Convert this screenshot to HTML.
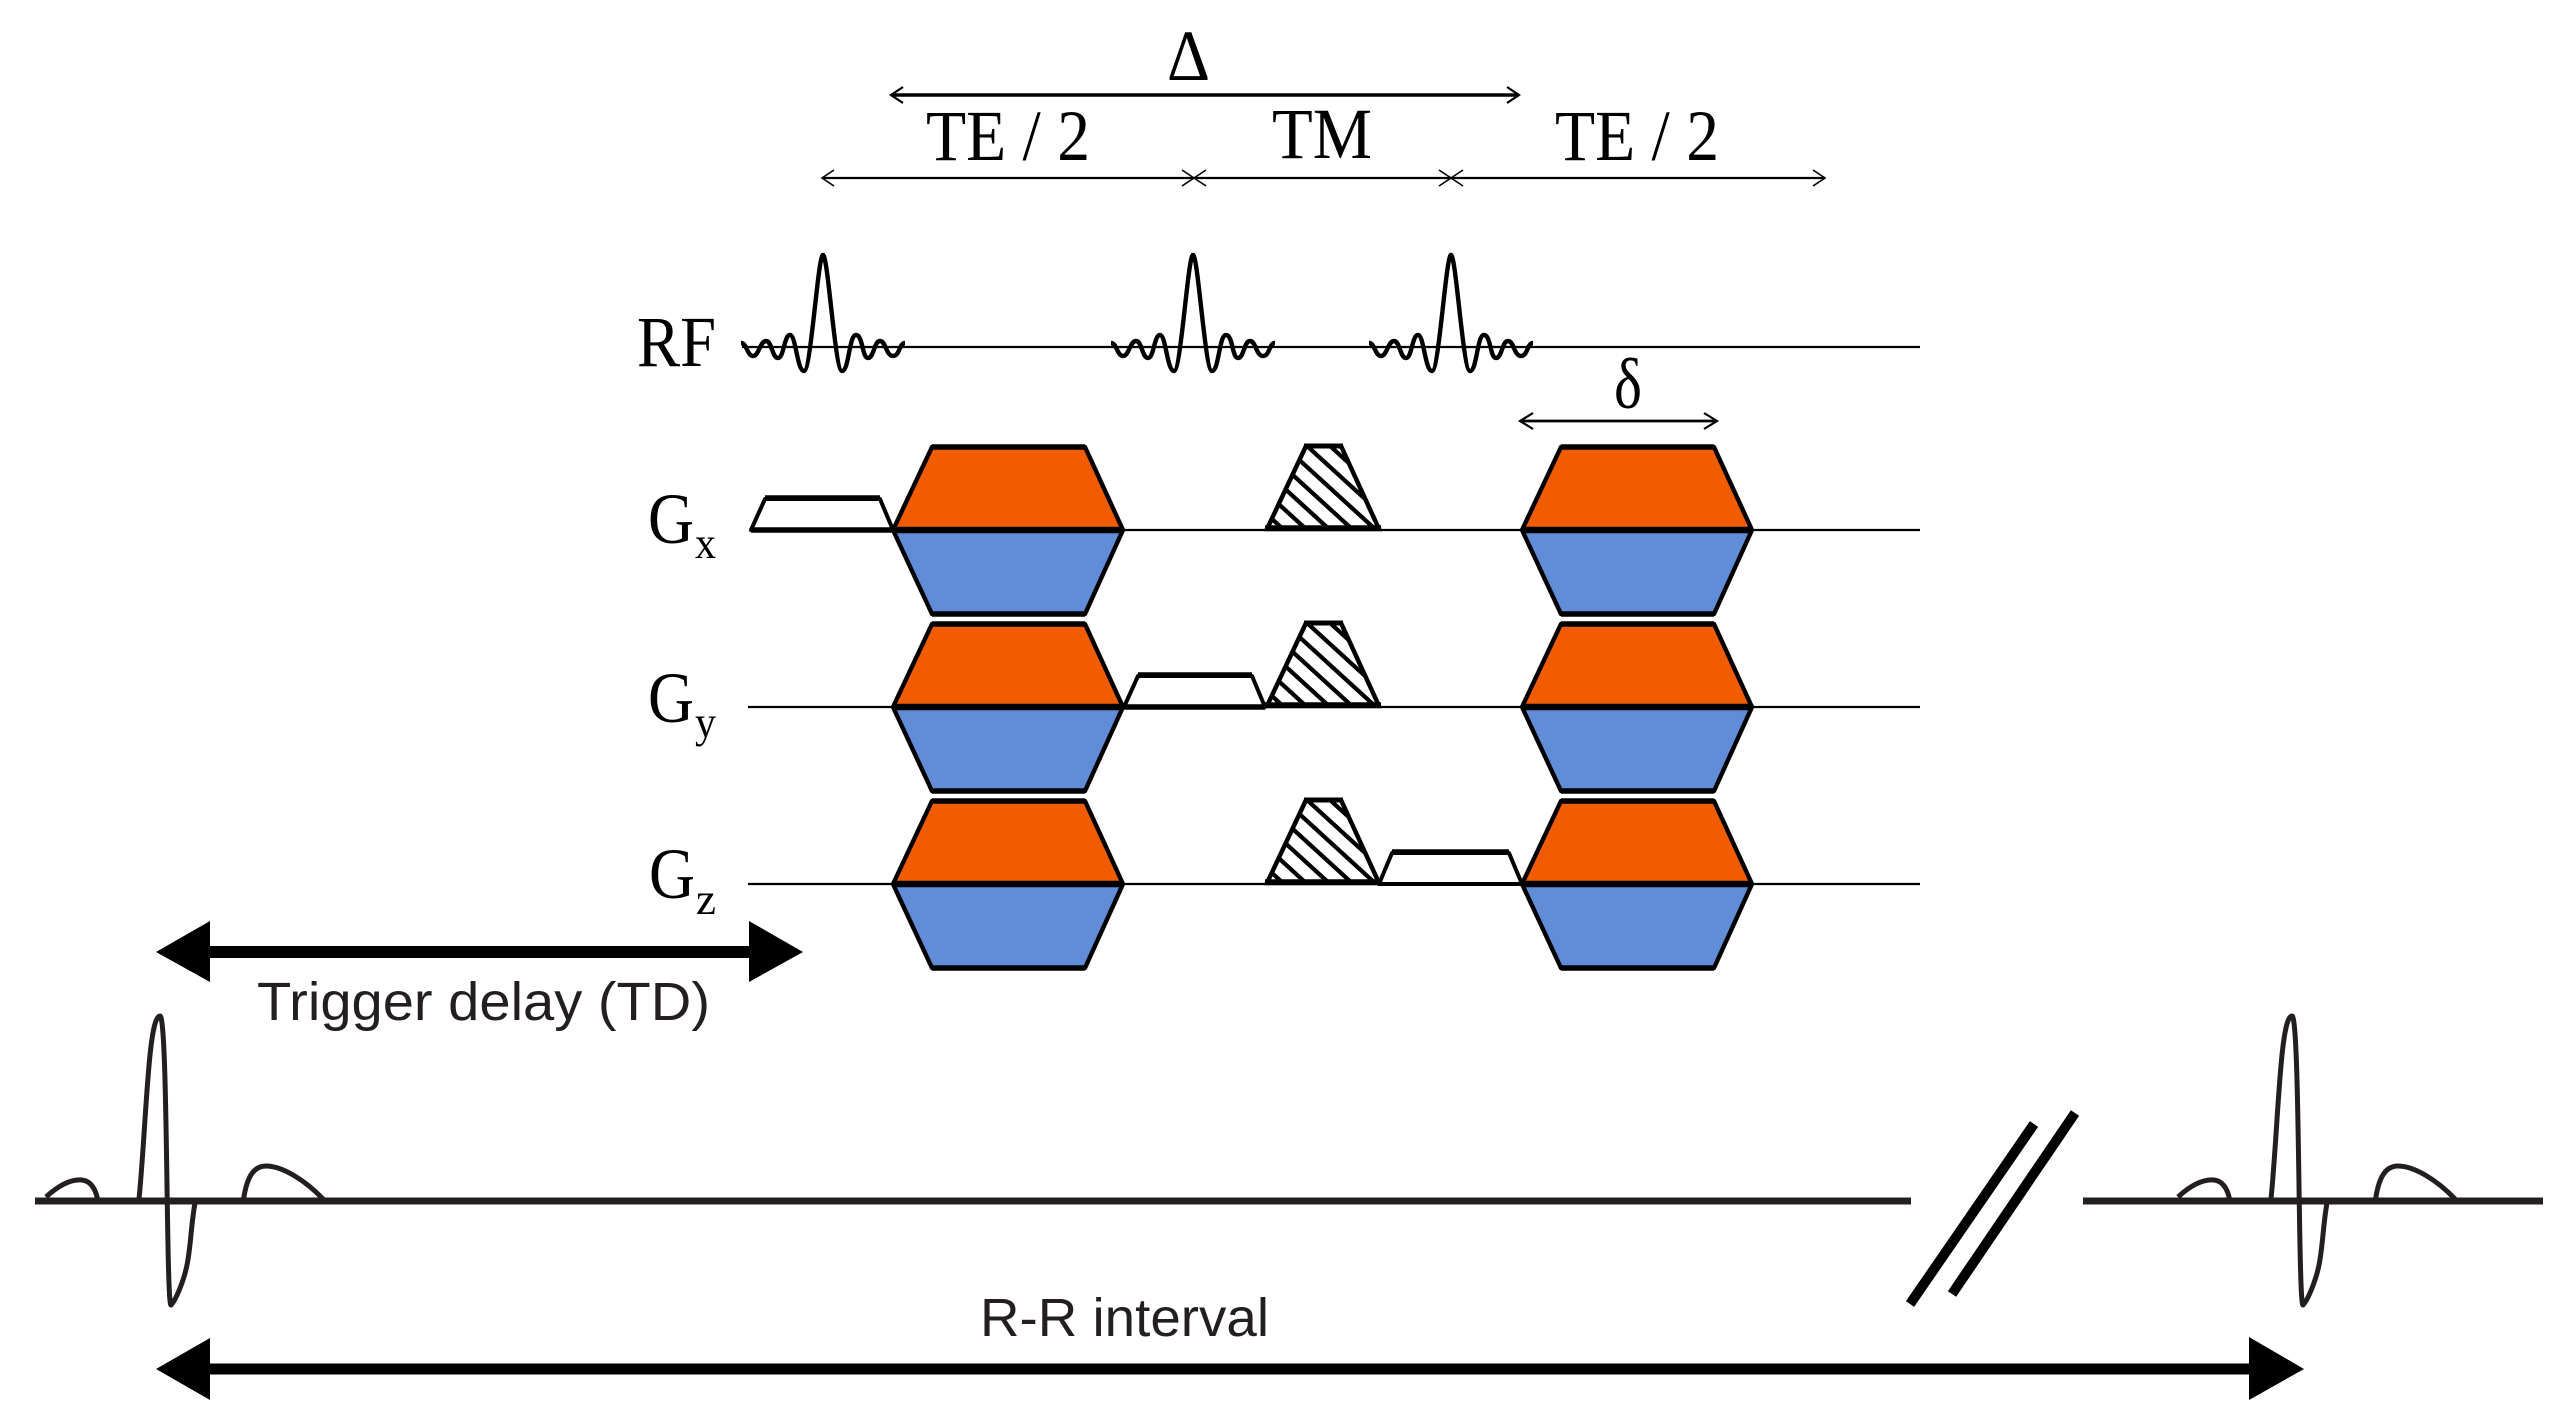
<!DOCTYPE html>
<html>
<head>
<meta charset="utf-8">
<style>
html,body{margin:0;padding:0;background:#fff;width:2550px;height:1425px;overflow:hidden}
svg{display:block}
.s{font-family:"Liberation Serif",serif;fill:#000}
.d{font-family:"Liberation Sans",sans-serif;fill:#231f20;font-size:54px}
</style>
</head>
<body>
<svg width="2550" height="1425" viewBox="0 0 2550 1425" xmlns="http://www.w3.org/2000/svg">
<defs>
<pattern id="h" patternUnits="userSpaceOnUse" width="23" height="21" patternTransform="translate(7,15)">
<path d="M-6,-5.5 L29,26.5 M-29,-5.5 L6,26.5 M17,-5.5 L52,26.5" stroke="#000" stroke-width="4.2" fill="none"/>
</pattern>
<path id="sinc" fill="none" stroke="#000" stroke-width="4.4" d="M-82,-4 C-76,-4 -76,9 -70,9 S-63,-6 -57,-6 S-51,11 -45,11 S-39,-12 -33,-12 S-26,24 -19,24 S-5,-92 0,-92 S12,24 19,24 S26,-12 33,-12 S39,11 45,11 S51,-6 57,-6 S63,9 70,9 S76,-4 82,-4"/>
<g id="hat">
<polygon points="1267,529 1306,446 1341,446 1379,529" fill="url(#h)" stroke="#000" stroke-width="4.5"/>
<line x1="1304" y1="446" x2="1343" y2="446" stroke="#000" stroke-width="5"/>
<line x1="1265" y1="528" x2="1381" y2="528" stroke="#000" stroke-width="5.5"/>
</g>
<g id="hex">
<polygon points="0,0 39,-83 192,-83 230,0" fill="#f25c00"/>
<polygon points="0,0 39,84 192,84 230,0" fill="#618cd8"/>
<polygon points="0,0 39,-83 192,-83 230,0 192,84 39,84" fill="none" stroke="#000" stroke-width="4.4" stroke-linejoin="round"/>
<line x1="39" y1="-83" x2="192" y2="-83" stroke="#000" stroke-width="5.5"/>
<line x1="39" y1="84" x2="192" y2="84" stroke="#000" stroke-width="5.5"/>
<line x1="0" y1="0" x2="230" y2="0" stroke="#000" stroke-width="6.5"/>
</g>
<g id="ecg" fill="none" stroke="#231f20" stroke-width="5">
<path d="M46,1197 C58,1186 70,1179 82,1180 C92,1181 97,1192 98,1203"/>
<path d="M139,1199 C146,1130 148,1016 160,1016 C168,1016 166,1305 171,1305 C176,1300 184,1280 187,1265 C191,1245 191,1225 195,1203"/>
<path d="M243,1203 C246,1180 252,1166 266,1166 C282,1166 305,1180 323,1199"/>
</g>
</defs>

<!-- timing arrows -->
<g fill="none" stroke="#000">
<line x1="891" y1="95" x2="1519" y2="95" stroke-width="3.6"/>
<path d="M903,87 L891,95 L903,103 M1507,87 L1519,95 L1507,103" stroke-width="2.2"/>
<line x1="822" y1="178" x2="1825" y2="178" stroke-width="2.2"/>
<path d="M834,170 L822,178 L834,186 M1813,170 L1825,178 L1813,186" stroke-width="1.6"/>
<path d="M1182,170 L1206,186 M1182,186 L1206,170 M1439,170 L1463,186 M1439,186 L1463,170" stroke-width="1.6"/>
<line x1="1520" y1="421" x2="1717" y2="421" stroke-width="2.8"/>
<path d="M1533,413 L1520,421 L1533,429 M1704,413 L1717,421 L1704,429" stroke-width="2.2"/>
</g>

<!-- baselines -->
<g stroke="#000" stroke-width="2.2">
<line x1="742" y1="347" x2="1920" y2="347"/>
<line x1="1120" y1="530" x2="1920" y2="530"/>
<line x1="748" y1="707" x2="1920" y2="707"/>
<line x1="748" y1="884" x2="1920" y2="884"/>
</g>

<!-- RF pulses -->
<use href="#sinc" transform="translate(823,347)"/>
<use href="#sinc" transform="translate(1193,347)"/>
<use href="#sinc" transform="translate(1451,347)"/>

<!-- white trapezoids -->
<g fill="#fff" stroke="#000" stroke-width="4" stroke-linejoin="round">
<polygon points="751,530 765,499 880,499 893,530"/>
<polygon points="1124,707 1138,676 1252,676 1265,707"/>
<polygon points="1379,884 1392,853 1509,853 1522,884"/>
</g>
<g stroke="#000" stroke-width="5.5">
<line x1="765" y1="498" x2="880" y2="498"/>
<line x1="1138" y1="675" x2="1252" y2="675"/>
<line x1="1392" y1="852" x2="1509" y2="852"/>
<line x1="751" y1="530" x2="893" y2="530"/>
<line x1="1124" y1="707" x2="1265" y2="707"/>
</g>

<!-- hatched -->
<use href="#hat"/>
<use href="#hat" transform="translate(0,177)"/>
<use href="#hat" transform="translate(0,354)"/>

<!-- hexagons -->
<use href="#hex" transform="translate(893,530)"/>
<use href="#hex" transform="translate(893,707)"/>
<use href="#hex" transform="translate(893,884)"/>
<use href="#hex" transform="translate(1522,530)"/>
<use href="#hex" transform="translate(1522,707)"/>
<use href="#hex" transform="translate(1522,884)"/>

<!-- serif labels -->
<g class="s" font-size="72">
<text x="1167" y="80" textLength="43" lengthAdjust="spacingAndGlyphs">Δ</text>
<text x="926" y="160" textLength="164" lengthAdjust="spacingAndGlyphs">TE / 2</text>
<text x="1272" y="158" textLength="100" lengthAdjust="spacingAndGlyphs">TM</text>
<text x="1555" y="160" textLength="164" lengthAdjust="spacingAndGlyphs">TE / 2</text>
<text x="637" y="366" textLength="79" lengthAdjust="spacingAndGlyphs">RF</text>
<text x="1614" y="408" textLength="28" lengthAdjust="spacingAndGlyphs">δ</text>
<text x="648" y="543" textLength="46" lengthAdjust="spacingAndGlyphs">G</text>
<text x="648" y="722" textLength="46" lengthAdjust="spacingAndGlyphs">G</text>
<text x="649" y="898" textLength="46" lengthAdjust="spacingAndGlyphs">G</text>
<text x="695" y="558" font-size="44" textLength="21" lengthAdjust="spacingAndGlyphs">x</text>
<text x="695" y="737" font-size="44" textLength="21" lengthAdjust="spacingAndGlyphs">y</text>
<text x="696" y="914" font-size="44" textLength="20" lengthAdjust="spacingAndGlyphs">z</text>
</g>

<!-- thick arrows -->
<g fill="#000">
<rect x="205" y="946" width="550" height="12"/>
<polygon points="156,952 210,921 210,982"/>
<polygon points="803,952 749,921 749,982"/>
<rect x="205" y="1363.5" width="2050" height="11"/>
<polygon points="156,1369 210,1338 210,1400"/>
<polygon points="2304,1369 2249,1337 2249,1400"/>
</g>
<text class="d" x="257" y="1020" textLength="453" lengthAdjust="spacingAndGlyphs">Trigger delay (TD)</text>
<text class="d" x="980" y="1336" textLength="289" lengthAdjust="spacingAndGlyphs">R-R interval</text>

<!-- ECG -->
<g stroke="#231f20" stroke-width="7">
<line x1="35" y1="1201" x2="1911" y2="1201"/>
<line x1="2083" y1="1201" x2="2543" y2="1201"/>
</g>
<use href="#ecg"/>
<use href="#ecg" transform="translate(2132,0)"/>
<g stroke="#000" stroke-width="10">
<line x1="1910" y1="1304" x2="2034" y2="1124"/>
<line x1="1952" y1="1294" x2="2075" y2="1113"/>
</g>
</svg>
</body>
</html>
